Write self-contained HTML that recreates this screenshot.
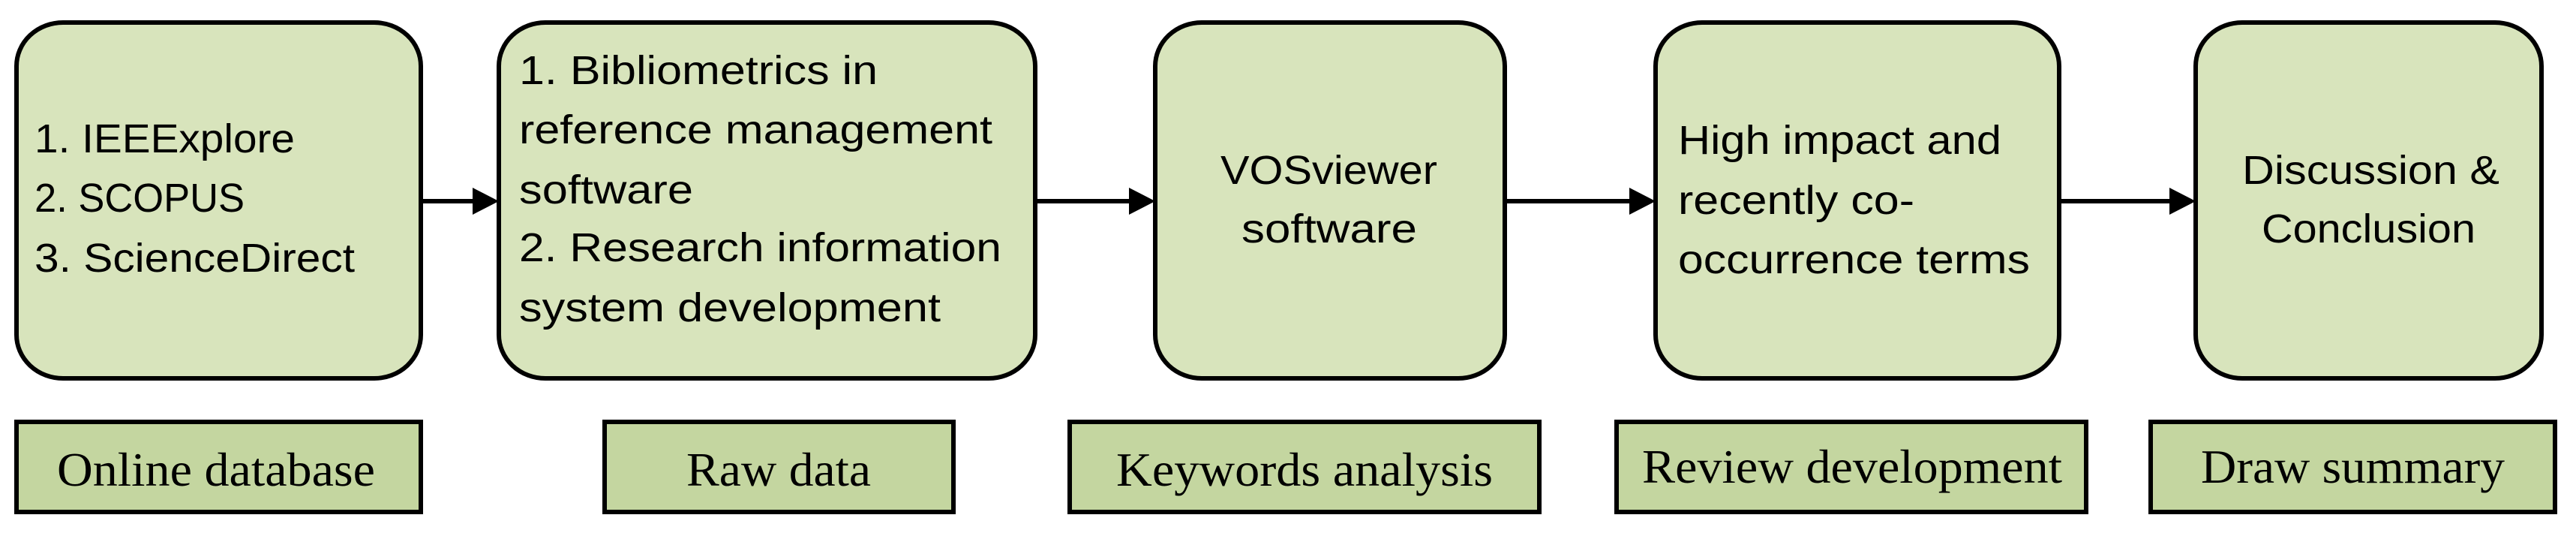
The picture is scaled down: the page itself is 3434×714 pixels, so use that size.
<!DOCTYPE html>
<html><head><meta charset="utf-8"><style>html,body{margin:0;padding:0;background:#fff}svg{display:block}</style></head>
<body>
<svg width="3434" height="714" viewBox="0 0 3434 714" xmlns="http://www.w3.org/2000/svg">
<g fill="#d8e4bc" stroke="#000" stroke-width="6">
<rect x="22" y="30" width="539" height="474" rx="62" ry="58"/>
<rect x="665" y="30" width="715" height="474" rx="62" ry="58"/>
<rect x="1540" y="30" width="466" height="474" rx="62" ry="58"/>
<rect x="2207" y="30" width="538" height="474" rx="62" ry="58"/>
<rect x="2927" y="30" width="461" height="474" rx="62" ry="58"/>
</g>
<g fill="#c4d6a0" stroke="#000" stroke-width="6">
<rect x="22" y="562" width="539" height="120"/>
<rect x="806" y="562" width="465" height="120"/>
<rect x="1426" y="562" width="626" height="120"/>
<rect x="2155" y="562" width="626" height="120"/>
<rect x="2867" y="562" width="539" height="120"/>
</g>
<g stroke="#000" stroke-width="6">
<line x1="561" y1="268" x2="635" y2="268"/>
<line x1="1380" y1="268" x2="1510" y2="268"/>
<line x1="2006" y1="268" x2="2177" y2="268"/>
<line x1="2745" y1="268" x2="2897" y2="268"/>
</g>
<g fill="#000">
<polygon points="630,250 665,268 630,286"/>
<polygon points="1505,250 1540,268 1505,286"/>
<polygon points="2172,250 2207,268 2172,286"/>
<polygon points="2892,250 2927,268 2892,286"/>
</g>
<g font-family="'Liberation Sans', sans-serif" font-size="54" fill="#000">
<text x="46" y="203" textLength="347" lengthAdjust="spacingAndGlyphs">1. IEEExplore</text>
<text x="46" y="282" textLength="280" lengthAdjust="spacingAndGlyphs">2. SCOPUS</text>
<text x="46" y="362" textLength="427" lengthAdjust="spacingAndGlyphs">3. ScienceDirect</text>
<text x="692" y="112" textLength="478" lengthAdjust="spacingAndGlyphs">1. Bibliometrics in</text>
<text x="692" y="191" textLength="631" lengthAdjust="spacingAndGlyphs">reference management</text>
<text x="692" y="271" textLength="232" lengthAdjust="spacingAndGlyphs">software</text>
<text x="692" y="348" textLength="643" lengthAdjust="spacingAndGlyphs">2. Research information</text>
<text x="692" y="428" textLength="562" lengthAdjust="spacingAndGlyphs">system development</text>
<text x="1627" y="245" textLength="289" lengthAdjust="spacingAndGlyphs">VOSviewer</text>
<text x="1655" y="323" textLength="234" lengthAdjust="spacingAndGlyphs">software</text>
<text x="2237" y="205" textLength="431" lengthAdjust="spacingAndGlyphs">High impact and</text>
<text x="2237" y="285" textLength="315" lengthAdjust="spacingAndGlyphs">recently co-</text>
<text x="2237" y="364" textLength="469" lengthAdjust="spacingAndGlyphs">occurrence terms</text>
<text x="2989" y="245" textLength="343" lengthAdjust="spacingAndGlyphs">Discussion &amp;</text>
<text x="3015" y="323" textLength="285" lengthAdjust="spacingAndGlyphs">Conclusion</text>
</g>
<g font-family="'Liberation Serif', serif" font-size="64" fill="#000">
<text x="76" y="647" textLength="424" lengthAdjust="spacingAndGlyphs">Online database</text>
<text x="915" y="647" textLength="246" lengthAdjust="spacingAndGlyphs">Raw data</text>
<text x="1488" y="647" textLength="502" lengthAdjust="spacingAndGlyphs">Keywords analysis</text>
<text x="2189" y="643" textLength="560" lengthAdjust="spacingAndGlyphs">Review development</text>
<text x="2934" y="643" textLength="405" lengthAdjust="spacingAndGlyphs">Draw summary</text>
</g>
</svg>
</body></html>
